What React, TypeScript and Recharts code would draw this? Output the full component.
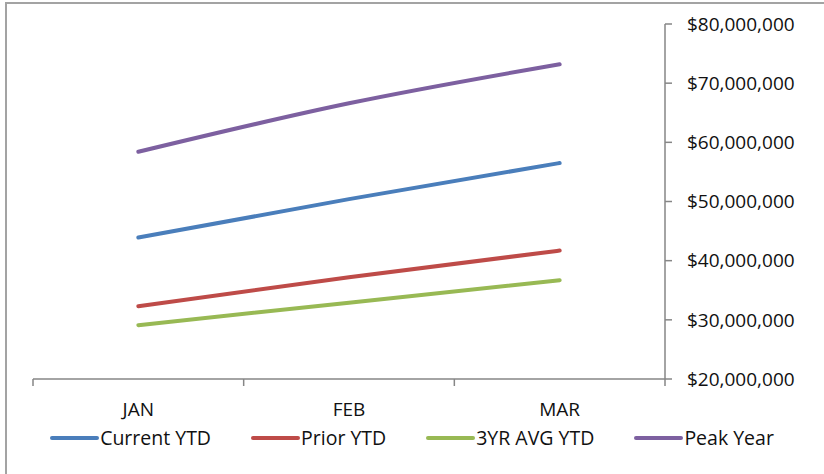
import React from 'react';
import { LineChart, Line, XAxis, YAxis, Legend } from 'recharts';

// Monthly year-to-date totals, in dollars
const months = ['JAN', 'FEB', 'MAR'];
const currentYtd = [43900000, 50400000, 56500000];
const priorYtd = [32300000, 37200000, 41700000];
const threeYrAvgYtd = [29100000, 32900000, 36700000];
const peakYear = [58400000, 66600000, 73200000];

const yTicks = [20000000, 30000000, 40000000, 50000000, 60000000, 70000000, 80000000];
// tick marks sit on the category boundaries
const boundaryTicks = [0, 1, 2, 3];

const seriesNames = ['Current YTD', 'Prior YTD', '3YR AVG YTD', 'Peak Year'];
const seriesColors = ['#4a7ebb', '#be4b48', '#98b954', '#7d60a0'];
const seriesKeys = ['current', 'prior', 'avg3', 'peak'];

const data = months.map((month, i) => ({
  month,
  current: currentYtd[i],
  prior: priorYtd[i],
  avg3: threeYrAvgYtd[i],
  peak: peakYear[i],
}));

const FONT = '"Open Sans", "Noto Sans", sans-serif';
const AXIS_COLOR = '#868686';
const TEXT_COLOR = '#111111';

const money = (v: number) => '$' + v.toLocaleString('en-US');

const LegendContent = () => (
  <div
    style={{
      display: 'flex',
      justifyContent: 'center',
      alignItems: 'center',
      gap: 40,
      height: 24,
      lineHeight: '24px',
      fontFamily: FONT,
      fontSize: 19.5,
      color: TEXT_COLOR,
      whiteSpace: 'nowrap',
    }}
  >
    {seriesNames.map((name, i) => (
      <div key={name} style={{ display: 'flex', alignItems: 'center' }}>
        <svg width={49} height={8} style={{ marginRight: 1 }}>
          <line x1={2} y1={4} x2={47} y2={4} stroke={seriesColors[i]} strokeWidth={4} strokeLinecap="round" />
        </svg>
        <span>{name}</span>
      </div>
    ))}
  </div>
);

const NoLabel = () => <g />;

export default function App() {
  return (
    <div
      style={{
        position: 'absolute',
        left: 0,
        top: 0,
        width: 824,
        height: 474,
        overflow: 'hidden',
        background: '#ffffff',
      }}
    >
      <div
        style={{
          position: 'absolute',
          left: 5,
          top: 2,
          width: 1000,
          height: 1000,
          borderLeft: '2px solid #a3a3a3',
          borderTop: '2px solid #a3a3a3',
        }}
      />
      <LineChart
        width={824}
        height={474}
        data={data}
        margin={{ top: 24, right: 0, left: 33, bottom: 34 }}
        style={{ position: 'absolute', left: 0, top: 0 }}
      >
        <XAxis
          xAxisId="edges"
          type="number"
          dataKey="boundary"
          domain={[0, 3]}
          allowDataOverflow
          ticks={boundaryTicks}
          interval={0}
          tick={<NoLabel />}
          tickSize={7}
          height={7}
          stroke={AXIS_COLOR}
          axisLine={{ stroke: AXIS_COLOR, strokeWidth: 1.5 }}
          tickLine={{ stroke: AXIS_COLOR, strokeWidth: 1.5 }}
        />
        <XAxis
          xAxisId="month"
          dataKey="month"
          scale="band"
          interval={0}
          axisLine={false}
          tickLine={false}
          tickSize={0}
          tickMargin={17}
          height={30}
          tick={{ fill: TEXT_COLOR, fontFamily: FONT, fontSize: 19 }}
        />
        <YAxis
          orientation="right"
          domain={[20000000, 80000000]}
          ticks={yTicks}
          interval={0}
          tickFormatter={money}
          width={159}
          tickSize={7}
          tickMargin={15}
          stroke={AXIS_COLOR}
          axisLine={{ stroke: AXIS_COLOR, strokeWidth: 1.5 }}
          tickLine={{ stroke: AXIS_COLOR, strokeWidth: 1.5 }}
          tick={{ fill: TEXT_COLOR, fontFamily: FONT, fontSize: 19 }}
        />
        <Legend
          verticalAlign="bottom"
          content={<LegendContent />}
          wrapperStyle={{ left: 0, width: 824, top: 426, bottom: 'auto' }}
        />
        {seriesKeys.map((key, i) => (
          <Line
            key={key}
            xAxisId="month"
            dataKey={key}
            name={seriesNames[i]}
            type="monotone"
            stroke={seriesColors[i]}
            strokeWidth={4}
            strokeLinecap="round"
            dot={false}
            activeDot={false}
            isAnimationActive={false}
          />
        ))}
      </LineChart>
    </div>
  );
}
